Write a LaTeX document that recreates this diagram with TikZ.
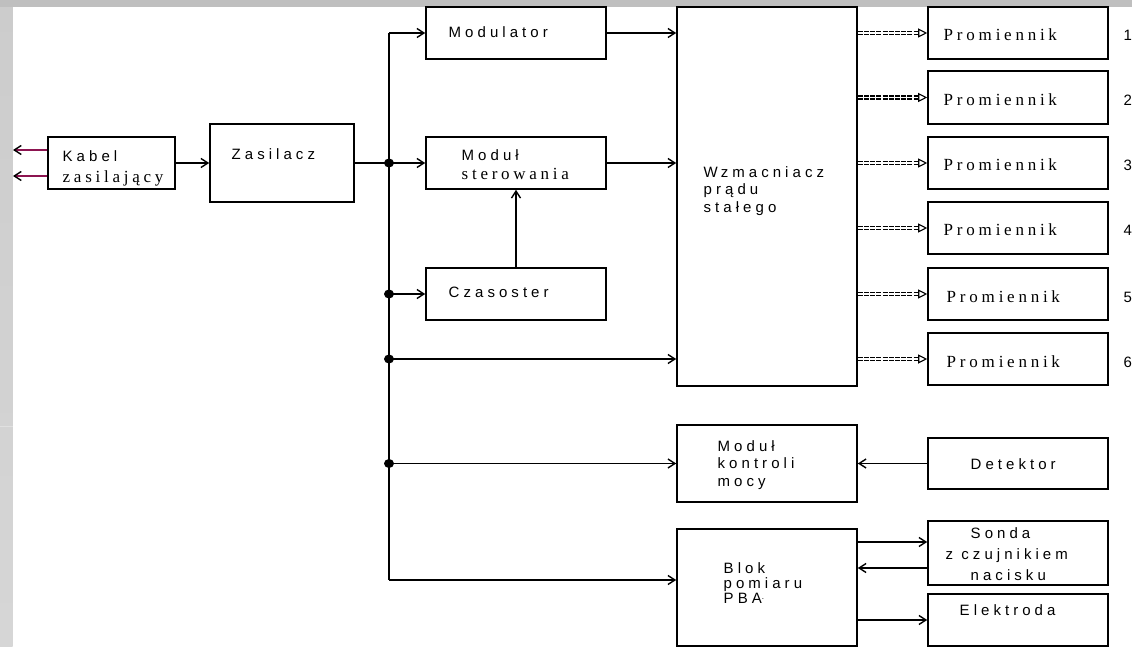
\documentclass[tikz,border=0pt]{standalone}
\usepackage{fontspec}
\setmainfont{Liberation Serif}
\setsansfont{Liberation Sans}
\newfontfamily\sfw{Liberation Sans}[LetterSpace=27]
\newfontfamily\rmw{Liberation Serif}[LetterSpace=22]
\newfontfamily\sfn{Liberation Sans}
\usetikzlibrary{arrows.meta}
\definecolor{cable}{RGB}{140,20,80}
\begin{document}
\begin{tikzpicture}[x=1pt,y=-1pt,line width=1.4pt,
  box/.style={draw,line width=1.6pt,inner sep=0pt,rectangle},
  sf/.style={font=\fontsize{15}{17}\sfw,inner sep=0pt,anchor=base west},
  rm/.style={font=\fontsize{17}{19}\rmw,inner sep=0pt,anchor=base west},
  num/.style={font=\fontsize{15}{17}\sfn,inner sep=0pt,anchor=base west},
  arr/.style={-{Straight Barb[length=7pt,width=9pt]}},
  arrk/.style={-{Straight Barb[length=7pt,width=9pt,color=black]}},
  dbl/.style={double,double distance=1.8pt,line width=1.3pt,dash pattern=on 5pt off 1.2pt,
    -{Triangle[open,length=9pt,width=9pt,line width=1.1pt]}}]
\useasboundingbox (0,0) rectangle (1132,647);
% background bands
\shade[top color=black!20,bottom color=black!16] (0,0) rectangle (12.5,647);
\fill[black!25] (0,0) rectangle (1132,7);
\draw[black!12,line width=0.8pt] (0,426) -- (12.5,426);
% boxes
\node[box,minimum width=127,minimum height=52] (kabel) at (111.5,163) {};
\node[box,minimum width=144,minimum height=78] (zas) at (282,163) {};
\node[box,minimum width=180,minimum height=52] (mod) at (516,33) {};
\node[box,minimum width=180,minimum height=52] (ster) at (516,163) {};
\node[box,minimum width=180,minimum height=52] (czas) at (516,294) {};
\node[box,minimum width=180,minimum height=379] (wzm) at (767,196.5) {};
\node[box,minimum width=180,minimum height=77] (kon) at (767,463.5) {};
\node[box,minimum width=180,minimum height=117] (blok) at (767,587.5) {};
\node[box,minimum width=180,minimum height=51] (det) at (1018,463.5) {};
\node[box,minimum width=180,minimum height=64] (sonda) at (1018,553) {};
\node[box,minimum width=180,minimum height=52] (elek) at (1018,620) {};
\node[box,minimum width=180,minimum height=52] (p1) at (1018,33) {};
\node[box,minimum width=180,minimum height=53] (p2) at (1018,97.5) {};
\node[box,minimum width=180,minimum height=52] (p3) at (1018,163) {};
\node[box,minimum width=180,minimum height=52] (p4) at (1018,228) {};
\node[box,minimum width=180,minimum height=52] (p5) at (1018,294) {};
\node[box,minimum width=180,minimum height=52] (p6) at (1018,359) {};
% texts
\node[sf] (t-kab1) at (62,162) {Kabel};
\node[rm] (t-kab2) at (62,183) {zasilający};
\node[sf] (t-zas) at (231,160) {Zasilacz};
\node[sf] (t-mod) at (448,38) {Modulator};
\node[sf] (t-ster1) at (461,161) {Moduł};
\node[rm] (t-ster2) at (461,180) {sterowania};
\node[sf] (t-czas) at (448,297) {Czasoster};
\node[sf] (t-wzm1) at (703,178) {W\hspace{3pt}zm\hspace{4pt}acniacz};
\node[sf] (t-wzm2) at (703,195) {prądu};
\node[sf] (t-wzm3) at (703,212) {stałego};
\node[rm] (t-p1) at (943,41) {Prom\hspace{4pt}iennik};
\node[rm] (t-p2) at (943,105.5) {Prom\hspace{4pt}iennik};
\node[rm] (t-p3) at (943,171) {Prom\hspace{4pt}iennik};
\node[rm] (t-p4) at (943,236) {Prom\hspace{4pt}iennik};
\node[rm] (t-p5) at (946,302) {Prom\hspace{4pt}iennik};
\node[rm] (t-p6) at (946,367) {Prom\hspace{4pt}iennik};
\node[num] (n1) at (1123,41) {1};
\node[num] (n2) at (1123,105.5) {2};
\node[num] (n3) at (1123,171) {3};
\node[num] (n4) at (1123,236) {4};
\node[num] (n5) at (1123,302) {5};
\node[num] (n6) at (1123,367) {6};
\node[sf] (t-kon1) at (717,451) {Moduł};
\node[sf] (t-kon2) at (717,468) {kontroli};
\node[sf] (t-kon3) at (717,486) {m\hspace{4pt}ocy};
\node[sf] (t-det) at (970,469) {Detektor};
\node[sf] (t-son1) at (970,538) {Sonda};
\node[sf] (t-son2) at (945,559) {z czujnikiem};
\node[sf] (t-son3) at (970,580) {nacisku};
\node[sf] (t-blok1) at (723,573) {Blok};
\node[sf] (t-blok2) at (723,588) {pom\hspace{4pt}iaru};
\node[sf] (t-blok3) at (723,603) {PBA\raisebox{4pt}{\fontsize{8}{8}\selectfont.}};
\node[sf] (t-elek) at (959,615) {Elektroda};
% bus
\coordinate (bt) at (389,33);
\coordinate (bb) at (389,580);
\coordinate (j1) at (389,163);
\coordinate (j2) at (389,294);
\coordinate (j3) at (389,359);
\coordinate (j4) at (389,463.5);
\draw (bt) -- (bb);
\foreach \j in {j1,j2,j3,j4} \fill (\j) ellipse[x radius=5pt,y radius=4.5pt];
\draw[arr] (bt) -- (mod.west);
\draw[arr] (zas.east) -- (ster.west);
\draw[arr] (j2) -- (czas.west);
\draw[arr] (j3) -- (j3 -| wzm.west);
\draw[arr] (j4) -- (kon.west);
\draw[arr] (bb) -- (bb -| blok.west);
\draw[arr] (mod.east) -- (mod.east -| wzm.west);
\draw[arr] (ster.east) -- (ster.east -| wzm.west);
\draw[arr] (czas.north) -- (ster.south);
\draw[arr] (kabel.east) -- (zas.west);
% cable
\coordinate (r1) at (13,150);
\coordinate (r2) at (13,176);
\draw[cable,arrk] (kabel.west |- r1) -- (r1);
\draw[cable,arrk] (kabel.west |- r2) -- (r2);
% lower right
\draw[arr] (det.west) -- (kon.east);
\coordinate (s1) at (928,542);
\coordinate (s2) at (928,568);
\draw[arr] (blok.east |- s1) -- (sonda.west |- s1);
\draw[arr] (sonda.west |- s2) -- (blok.east |- s2);
\draw[arr] (blok.east |- elek.west) -- (elek.west);
% radiators
\foreach \i in {1,...,6} \draw[dbl] (wzm.east |- p\i.west) -- (p\i.west);
\end{tikzpicture}
\end{document}
